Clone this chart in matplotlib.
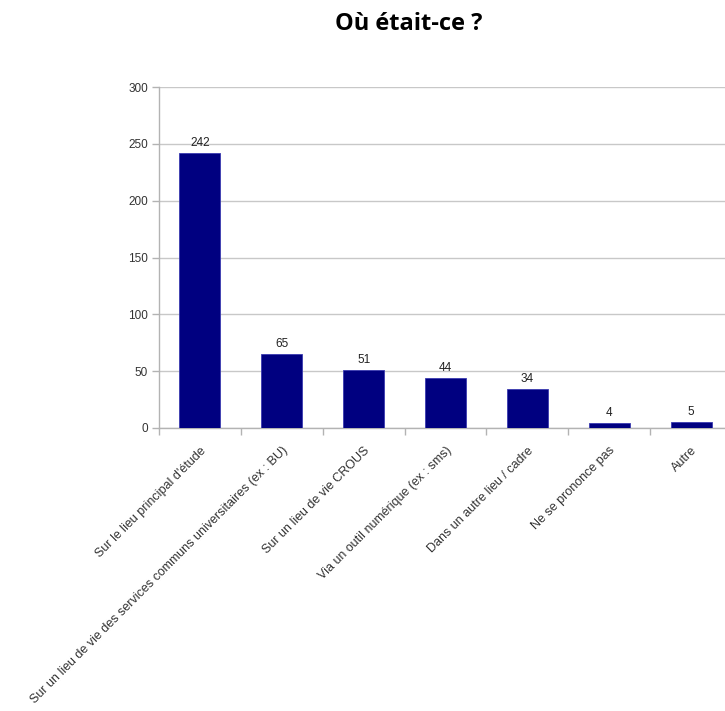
import matplotlib
matplotlib.use("Agg")
import matplotlib.pyplot as plt
import numpy as np

categories = [
    "Sur le lieu principal d'étude",
    "Sur un lieu de vie des services communs universitaires (ex : BU)",
    "Sur un lieu de vie CROUS",
    "Via un outil numérique (ex : sms)",
    "Dans un autre lieu / cadre",
    "Ne se prononce pas",
    "Autre",
]
values = [242, 65, 51, 44, 34, 4, 5]
yticks = [0, 50, 100, 150, 200, 250, 300]

W, H = 725, 711
fig = plt.figure(figsize=(W / 100, H / 100), dpi=100)
# axes extends a little past the right edge like the original
ax = fig.add_axes([159 / W, 1 - 428 / H, 573 / W, 341 / H])

x = np.arange(len(categories))
ax.bar(x, values, width=0.5, color="#000080", edgecolor="#3a3ab0", linewidth=0.6, zorder=3)

for xi, v in zip(x, values):
    ax.annotate(str(v), (xi, v), xytext=(0, 3), textcoords="offset points",
                ha="center", va="bottom", fontsize=8.5, color="#222222",
                family="Liberation Sans")

ax.set_xlim(-0.5, len(categories) - 0.5)
ax.set_ylim(0, 300)
ax.set_yticks(yticks)
ax.set_yticklabels([str(t) for t in yticks], fontsize=8.5, color="#333333", family="Liberation Sans")
ax.yaxis.grid(True, color="#c8c8c8", linewidth=1, zorder=0)

ax.set_xticks(x)
ax.set_xticklabels(categories, rotation=45, ha="right", va="top", rotation_mode="anchor",
                   fontsize=9, color="#333333", family="Liberation Sans")
ax.tick_params(axis="x", which="major", length=0, pad=12)
ax.set_xticks(np.arange(len(categories)) - 0.5, minor=True)
ax.tick_params(axis="x", which="minor", length=5, color="#b3b3b3", width=1)
ax.tick_params(axis="y", length=5, color="#b3b3b3", width=1, pad=3)

for s in ["top", "right"]:
    ax.spines[s].set_visible(False)
for s in ["left", "bottom"]:
    ax.spines[s].set_color("#b3b3b3")
    ax.spines[s].set_linewidth(1)

fig.text(409 / W, 1 - 24 / H, "Où était-ce ?", ha="center", va="center",
         fontsize=17, fontweight="bold", family="Open Sans", color="#000000")

fig.savefig("out.png", dpi=100)
